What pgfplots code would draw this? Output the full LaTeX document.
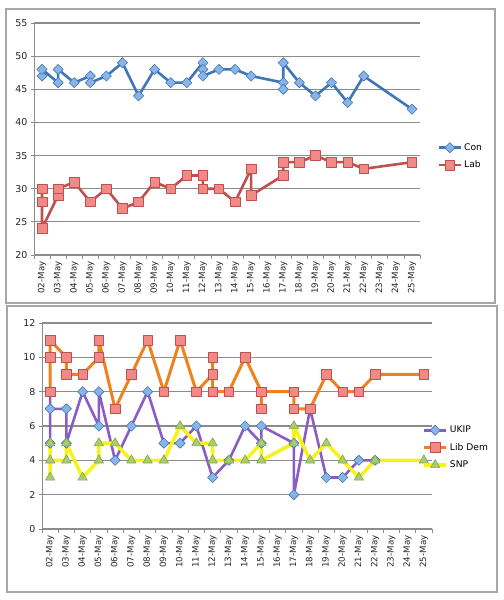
\documentclass[border=0pt]{standalone}
\usepackage{fontspec}
\setmainfont{DejaVu Sans}
\usepackage{pgfplots}
\pgfplotsset{compat=1.18}
\definecolor{framegray}{HTML}{A6A6A6}
\definecolor{axisgray}{HTML}{8C8C8C}
\definecolor{gridgray}{HTML}{8C8C8C}
\definecolor{conline}{HTML}{3F76B8}
\definecolor{confill}{HTML}{8AB4E6}
\definecolor{labline}{HTML}{C0504D}
\definecolor{labfill}{HTML}{F08A86}
\definecolor{ukipline}{HTML}{8A5CC6}
\definecolor{ldline}{HTML}{F0821E}
\definecolor{snpline}{HTML}{F7F21A}
\definecolor{snpfill}{HTML}{A9CC6E}
\definecolor{snpedge}{HTML}{86A84C}
\pgfplotsset{
  panel/.style={
    scale only axis, clip=false,
    /pgf/number format/assume math mode=true,
    axis x line*=bottom, axis y line*=left,
    axis line style={draw=axisgray, line width=1bp, -},
    ymajorgrids, grid style={gridgray, line width=1.2bp},
    xmin=-0.5, xmax=23.5,
    xtick={0,...,23},
    xticklabels={02-May,03-May,04-May,05-May,06-May,07-May,08-May,09-May,10-May,11-May,12-May,13-May,14-May,15-May,16-May,17-May,18-May,19-May,20-May,21-May,22-May,23-May,24-May,25-May},
    major x tick style={draw=none},
    minor xtick={-0.5,0.5,...,23.5},
    tick align=outside,
    major tick length=3bp, minor tick length=4bp,
    tick style={axisgray, line width=0.8bp},
    x tick label style={rotate=90, anchor=east, font=\fontsize{8.7}{10}\selectfont, text=black!85},
    y tick label style={font=\fontsize{9.5}{11}\selectfont, text=black!85},
    legend style={draw=none, fill=none, font=\fontsize{9.2}{10}\selectfont, row sep=5bp, inner sep=0pt},
    legend cell align=left,
    legend image code/.code={\draw[mark repeat=2,mark phase=2,#1] plot coordinates {(0bp,0bp) (11bp,0bp) (22bp,0bp)};},
    every axis plot/.append style={line join=round},
  },
  diam/.style={mark=square*, mark size=3.6bp, mark options={solid, rotate=45, fill=confill, draw=conline, line width=0.6bp}},
  sq/.style={mark=square*, mark size=4.8bp, mark options={solid, fill=labfill, draw=labline, line width=0.6bp}},
  tri/.style={mark=triangle*, mark size=5.4bp, mark options={solid, fill=snpfill, draw=snpedge, line width=0.6bp}},
}
\begin{document}
\begin{tikzpicture}
\useasboundingbox (0,0) rectangle (504bp,600bp);
\draw[framegray, line width=1.2bp, fill=white] (6bp,297bp) rectangle (495bp,591bp);
\draw[framegray, line width=1.2bp, fill=white] (7bp,8bp) rectangle (497bp,294bp);
\begin{axis}[panel, at={(34bp,345bp)}, anchor=south west,
  width=386bp, height=232bp,
  ymin=20, ymax=55, ytick={20,25,...,55},
  legend style={at={(1.045,0.425)}, anchor=west}]
\addplot[conline, line width=2.6bp, diam] coordinates {
(0,47)(0,48)(1,46)(1,48)(2,46)(3,47)(3,46)(4,47)(5,49)(6,44)(7,48)(8,46)(9,46)(10,49)(10,48)(10,47)(11,48)(12,48)(13,47)(15,46)(15,45)(15,49)(16,46)(17,44)(18,46)(19,43)(20,47)(23,42)};
\addlegendentry{Con}
\addplot[labline, line width=2.6bp, sq] coordinates {
(0,30)(0,28)(0,24)(1,29)(1,30)(2,31)(3,28)(4,30)(5,27)(6,28)(7,31)(8,30)(9,32)(10,32)(10,30)(11,30)(12,28)(13,33)(13,29)(15,32)(15,34)(16,34)(17,35)(18,34)(19,34)(20,33)(23,34)};
\addlegendentry{Lab}
\end{axis}
\begin{axis}[panel, at={(42bp,71bp)}, anchor=south west,
  width=390bp, height=206bp,
  ymin=0, ymax=12, ytick={0,2,...,12},
  legend style={at={(0.975,0.395)}, anchor=west}]
\addplot[ukipline, line width=2.6bp, diam] coordinates {
(0,8)(0,5)(0,7)(1,7)(1,5)(2,8)(3,6)(3,8)(4,4)(5,6)(6,8)(7,5)(8,5)(9,6)(10,3)(11,4)(12,6)(13,5)(13,6)(15,5)(15,2)(16,7)(17,3)(18,3)(19,4)(20,4)};
\addlegendentry{UKIP}
\addplot[ldline, line width=3bp, sq] coordinates {
(0,8)(0,10)(0,11)(1,10)(1,9)(2,9)(3,10)(3,11)(4,7)(5,9)(6,11)(7,8)(8,11)(9,8)(10,9)(10,10)(10,8)(11,8)(12,10)(13,8)(13,7)(13,8)(15,8)(15,7)(16,7)(17,9)(18,8)(19,8)(20,9)(23,9)};
\addlegendentry{Lib Dem}
\addplot[snpline, line width=3.5bp, tri] coordinates {
(0,5)(0,3)(0,4)(1,4)(1,5)(2,3)(3,4)(3,5)(4,5)(5,4)(6,4)(7,4)(8,6)(9,5)(10,5)(10,4)(11,4)(12,4)(13,5)(13,4)(15,5)(15,6)(16,4)(17,5)(18,4)(19,3)(20,4)(23,4)};
\addlegendentry{SNP}
\end{axis}
\end{tikzpicture}
\end{document}
